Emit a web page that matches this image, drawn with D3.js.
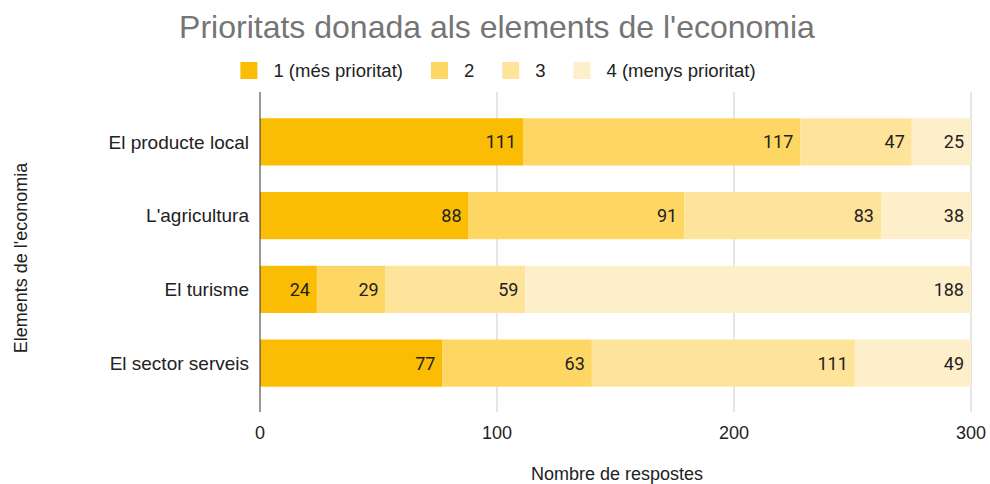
<!DOCTYPE html>
<html>
<head>
<meta charset="utf-8">
<script src="https://cdn.jsdelivr.net/npm/d3@7"></script>
<style>
  body { margin: 0; background: #fff; }
  text { font-family: "Liberation Sans", Arial, sans-serif; }
</style>
</head>
<body>
<div id="chart"></div>
<script>
// DATA //
const categories = ["El producte local", "L'agricultura", "El turisme", "El sector serveis"]
const seriesNames = ["1 (més prioritat)", "2", "3", "4 (menys prioritat)"]
const prio1 = [111, 88, 24, 77]
const prio2 = [117, 91, 29, 63]
const prio3 = [47, 83, 59, 111]
const prio4 = [25, 38, 188, 49]
const xTicks = [0, 100, 200, 300]
const colors = ["#fbbc04", "#fdd663", "#fee49b", "#feefcb"]

const width = 990
const height = 484
const plot = { left: 260, right: 971, top: 92, bottom: 412 }

const rows = categories.map((c, i) => ({
    cat: c,
    "0": prio1[i], "1": prio2[i], "2": prio3[i], "3": prio4[i]
}))
const stacked = d3.stack().keys(["0", "1", "2", "3"])(rows)

const svg = d3.select("#chart").append("svg")
    .attr("width", width)
    .attr("height", height)

const xScale = d3.scaleLinear()
    .domain([0, 300])
    .range([plot.left, plot.right])

const yScale = d3.scaleBand()
    .domain(categories)
    .range([105, 400])
    .paddingInner(0.36)
    .paddingOuter(0.18)

// gridlines
svg.append("g")
    .selectAll("line")
    .data(xTicks.filter(d => d > 0))
    .join("line")
    .attr("x1", d => xScale(d))
    .attr("x2", d => xScale(d))
    .attr("y1", plot.top)
    .attr("y2", plot.bottom)
    .attr("stroke", "#cccccc")
    .attr("stroke-width", 1)

// bars
const groups = svg.append("g")
    .selectAll("g")
    .data(stacked)
    .join("g")
    .attr("fill", (d, i) => colors[i])

groups.selectAll("rect")
    .data(d => d.map(v => ({ v, key: d.key })))
    .join("rect")
    .attr("x", d => xScale(d.v[0]))
    .attr("y", d => yScale(d.v.data.cat))
    .attr("width", d => xScale(d.v[1]) - xScale(d.v[0]))
    .attr("height", yScale.bandwidth())

// value labels
groups.selectAll("text")
    .data(d => d.map(v => ({ v, key: d.key })))
    .join("text")
    .attr("x", d => xScale(d.v[1]) - 7)
    .attr("y", d => yScale(d.v.data.cat) + yScale.bandwidth() / 2)
    .attr("dy", "0.36em")
    .attr("text-anchor", "end")
    .attr("fill", "#222")
    .style("font-family", "Roboto, sans-serif")
    .style("font-size", "18px")
    .text(d => d.v[1] - d.v[0])

// baseline
svg.append("line")
    .attr("x1", plot.left).attr("x2", plot.left)
    .attr("y1", plot.top).attr("y2", plot.bottom)
    .attr("stroke", "#333")
    .attr("stroke-width", 1)

// x tick labels
svg.append("g")
    .selectAll("text")
    .data(xTicks)
    .join("text")
    .attr("x", d => xScale(d))
    .attr("y", 439)
    .attr("text-anchor", "middle")
    .attr("fill", "#222")
    .style("font-size", "18px")
    .text(d => d)

// category labels
svg.append("g")
    .selectAll("text")
    .data(categories)
    .join("text")
    .attr("x", 249)
    .attr("y", d => yScale(d) + yScale.bandwidth() / 2)
    .attr("dy", "0.35em")
    .attr("text-anchor", "end")
    .attr("fill", "#222")
    .style("font-size", "19px")
    .text(d => d)

// axis titles
svg.append("text")
    .attr("x", 617)
    .attr("y", 480)
    .attr("text-anchor", "middle")
    .attr("fill", "#222")
    .style("font-size", "18px")
    .text("Nombre de respostes")

svg.append("text")
    .attr("transform", `translate(27, 258) rotate(-90)`)
    .attr("text-anchor", "middle")
    .attr("fill", "#222")
    .style("font-size", "18px")
    .text("Elements de l'economia")

// title
svg.append("text")
    .attr("x", 497)
    .attr("y", 38)
    .attr("text-anchor", "middle")
    .attr("fill", "#757575")
    .style("font-size", "32px")
    .text("Prioritats donada als elements de l'economia")

// legend
const legend = svg.append("g")
let lx = 0
seriesNames.forEach((name, i) => {
    const g = legend.append("g").attr("transform", `translate(${lx},0)`)
    g.append("rect")
        .attr("x", 0).attr("y", 62)
        .attr("width", 17).attr("height", 17)
        .attr("fill", colors[i])
    const t = g.append("text")
        .attr("x", 33).attr("y", 71)
        .attr("dy", "0.35em")
        .attr("fill", "#222")
        .style("font-size", "18.5px")
        .text(name)
    lx += 33 + t.node().getComputedTextLength() + 28
})
const legendW = lx - 28
legend.attr("transform", `translate(${498 - legendW / 2},0)`)
</script>
</body>
</html>
